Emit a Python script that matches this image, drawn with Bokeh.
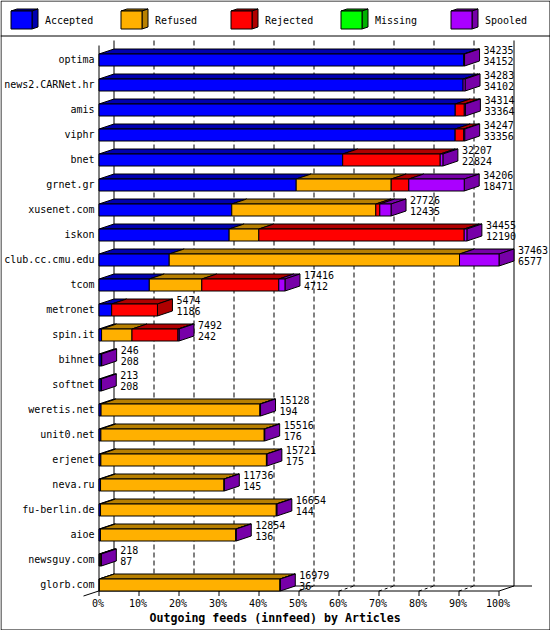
from bokeh.plotting import figure
from bokeh.models import Range1d
from bokeh.core.properties import value
from bokeh.embed import file_html
from bokeh.resources import INLINE

hosts = ["optima", "news2.CARNet.hr", "amis", "viphr", "bnet", "grnet.gr", "xusenet.com", "iskon",
         "club.cc.cmu.edu", "tcom", "metronet", "spin.it", "bihnet", "softnet", "weretis.net",
         "unit0.net", "erjenet", "neva.ru", "fu-berlin.de", "aioe", "newsguy.com", "glorb.com"]
totals = [34235, 34283, 34314, 34247, 32207, 34206, 27726, 34455, 37463, 17416, 5474, 7492,
          246, 213, 15128, 15516, 15721, 11736, 16654, 12854, 218, 16979]
accepted = [34152, 34102, 33364, 33356, 22824, 18471, 12435, 12190, 6577, 4712, 1186, 242,
            208, 208, 194, 176, 175, 145, 144, 136, 87, 36]
refused = [0, 0, 0, 0, 0, 8896, 13490, 2778, 27187, 4916, 0, 2848,
           0, 0, 14874, 15300, 15506, 11561, 16460, 12668, 100, 16913]
rejected = [0, 0, 850, 800, 9133, 1650, 375, 19237, 0, 7212, 4288, 4308,
            0, 0, 0, 0, 0, 0, 0, 0, 0, 0]
missing = [0] * 22
spooled = [83, 181, 100, 91, 250, 5189, 1051, 250, 3699, 576, 0, 94,
           38, 5, 60, 40, 40, 30, 50, 50, 31, 30]

series_names = ["Accepted", "Refused", "Rejected", "Missing", "Spooled"]
series = [accepted, refused, rejected, missing, spooled]
front_colors = ["#0000ff", "#ffb000", "#ff0000", "#00ff00", "#aa00ff"]
dark_colors = ["#0000b0", "#b88000", "#b00000", "#00b000", "#7700a8"]
pct_ticks = list(range(0, 101, 10))
xlabel = "Outgoing feeds (innfeed) by Articles"

FONT = value("DejaVu Sans Mono")
W, H = 550, 630
X0, PX_PCT = 98.5, 4.0       # pixel of 0 %, pixels per percent
Y0, PX_ROW = 59.5, 25.0      # pixel of first row, pixels per row
DX = 15 / PX_PCT             # chart depth in data units
DY = 5 / PX_ROW
HALF = 6 / PX_ROW


def X(px):
    return (px - X0) / PX_PCT


def Y(py):
    return (py - Y0) / PX_ROW


p = figure(width=W, height=H, output_backend="svg", toolbar_location=None,
           min_border_left=0, min_border_right=0, min_border_top=0, min_border_bottom=0,
           x_range=Range1d(X(0), X(W)), y_range=Range1d(Y(H), Y(0)))
p.outline_line_color = None
p.grid.visible = False
p.axis.visible = False


def line(x0, y0, x1, y1, **kw):
    p.segment(x0, y0, x1, y1, line_color="black", line_width=1, **kw)


def label(xs, ys, texts, size="10px", **kw):
    p.text(xs, ys, text=texts, text_baseline="middle", text_font=FONT, text_font_size=size,
           text_color="black", **kw)


# outer border and header rule
line([X(0.5), X(549.5), X(0.5), X(0.5), X(0)], [Y(0.5), Y(0.5), Y(629.5), Y(0.5), Y(35.5)],
     [X(549.5), X(549.5), X(549.5), X(0.5), X(550)], [Y(0.5), Y(629.5), Y(629.5), Y(629.5), Y(35.5)])

# legend
for i, name in enumerate(series_names):
    x = 10.5 + 110 * i
    p.patches([[X(x), X(x + 6), X(x + 27), X(x + 21)], [X(x + 21), X(x + 27), X(x + 27), X(x + 21)]],
              [[Y(10.5), Y(8.5), Y(8.5), Y(10.5)], [Y(10.5), Y(8.5), Y(26.5), Y(28.5)]],
              fill_color=dark_colors[i], line_color="black")
    p.quad(left=[X(x)], right=[X(x + 21)], top=[Y(10.5)], bottom=[Y(28.5)],
           fill_color=front_colors[i], line_color="black")
    label([X(44.5 + 110 * i)], [Y(20)], [name])

# back wall and floor
wall_top = Y(40)
floor = Y(585.5)
front_floor = Y(590.5)
dash_ticks = pct_ticks[1:-1]
line([t + DX for t in dash_ticks], [wall_top] * 9, [t + DX for t in dash_ticks], [floor] * 9, line_dash="5 3")
line(dash_ticks, [front_floor] * 9, [t + DX for t in dash_ticks], [floor] * 9, line_dash="3 3")
line([DX, 100 + DX], [wall_top] * 2, [DX, 100 + DX], [floor] * 2)
line([DX], [floor], [X(531.5)], [floor])
line([100], [front_floor], [100 + DX], [floor])
line([X(83)], [Y(595.5)], [DX], [floor])

# axes
line([0], [Y(45)], [0], [front_floor])
line([0], [front_floor], [100], [front_floor])
line(pct_ticks, [front_floor] * 11, pct_ticks, [Y(595.5)] * 11)
rows = list(range(len(hosts)))
label([0] * len(hosts), rows, hosts, text_align="right", x_offset=-4.5, y_offset=-0.5)
label(pct_ticks, [Y(602.5)] * 11, [f"{t}%" for t in pct_ticks], text_align="center", x_offset=-1)

# 3-D stacked bars
scale = 100.0 / max(totals)
fl, fr, fb, ft, fc = [], [], [], [], []
top_x, top_y, top_c, side_x, side_y, side_c = [], [], [], [], [], []
for r in rows:
    cum = 0
    last = 0
    for s, vals in enumerate(series):
        v = vals[r]
        if v <= 0:
            continue
        a, b = cum * scale, (cum + v) * scale
        cum += v
        last = s
        fl.append(a); fr.append(b); fb.append(r + HALF); ft.append(r - HALF); fc.append(front_colors[s])
        top_x.append([a, a + DX, b + DX, b])
        top_y.append([r - HALF, r - HALF - DY, r - HALF - DY, r - HALF])
        top_c.append(dark_colors[s])
    e = cum * scale
    side_x.append([e, e + DX, e + DX, e])
    side_y.append([r - HALF, r - HALF - DY, r + HALF - DY, r + HALF])
    side_c.append(dark_colors[last])

p.patches(top_x, top_y, fill_color=top_c, line_color="black")
p.patches(side_x, side_y, fill_color=side_c, line_color="black")
p.quad(left=fl, right=fr, bottom=fb, top=ft, fill_color=fc, line_color="black")

# value labels
ends = [sum(v[r] for v in series) * scale + DX for r in rows]
label(ends, rows, [str(t) for t in totals], x_offset=4, y_offset=-10)
label(ends, rows, [str(t) for t in accepted], x_offset=4, y_offset=1)

# axis title
label([X(149)], [Y(617)], [xlabel], size="11.6px", text_font_style="bold")

open("out.html", "w").write(file_html(p, INLINE))
